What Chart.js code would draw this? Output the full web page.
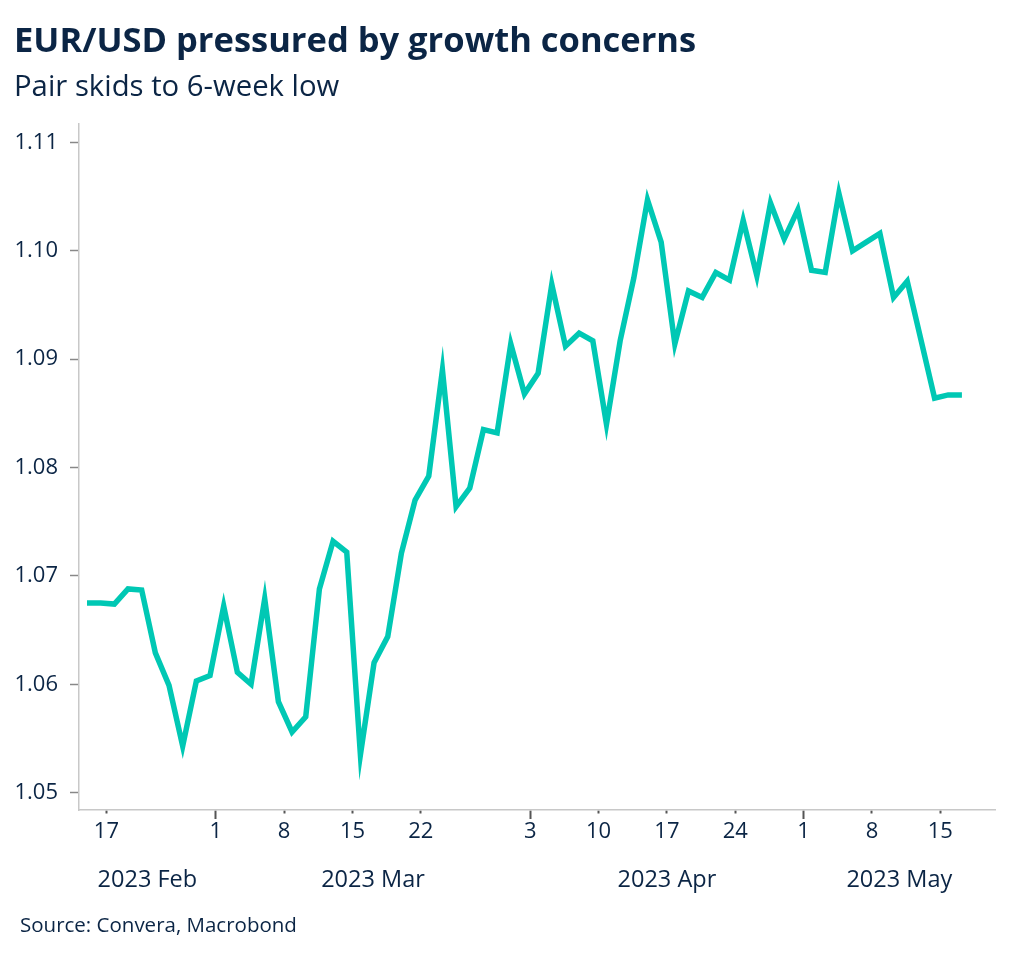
<!DOCTYPE html>
<html>
<head>
<meta charset="utf-8">
<title>EUR/USD pressured by growth concerns</title>
<script src="https://cdn.jsdelivr.net/npm/chart.js@4.4.1/dist/chart.umd.min.js"></script>
<style>
  html, body { margin: 0; padding: 0; background: #fff; }
  #wrap { position: relative; width: 1024px; height: 958px; overflow: hidden; font-family: "Open Sans", sans-serif; color: #0b2545; }
  #chartBox { position: absolute; left: 0; top: 0; width: 1024px; height: 958px; }
  .title { position: absolute; left: 14px; top: 22px; font-size: 34.5px; font-weight: 700; line-height: 1; white-space: nowrap; }
  .subtitle { position: absolute; left: 14px; top: 71px; font-size: 29.3px; line-height: 1; white-space: nowrap; }
  .source { position: absolute; left: 20px; top: 914px; font-size: 20.5px; line-height: 1; white-space: nowrap; }
</style>
</head>
<body>
<div id="wrap">
  <div id="chartBox"><canvas id="fxChart"></canvas></div>
  <div class="title">EUR/USD pressured by growth concerns</div>
  <div class="subtitle">Pair skids to 6-week low</div>
  <div class="source">Source: Convera, Macrobond</div>
</div>
<script>
// trading days, 2023
const dates = [
  '02-16', '02-17', '02-20', '02-21', '02-22', '02-23', '02-24', '02-27', '02-28',
  '03-01', '03-02', '03-03', '03-06', '03-07', '03-08', '03-09', '03-10',
  '03-13', '03-14', '03-15', '03-16', '03-17', '03-20', '03-21', '03-22', '03-23', '03-24',
  '03-27', '03-28', '03-29', '03-30', '03-31',
  '04-03', '04-04', '04-05', '04-06', '04-07', '04-10', '04-11', '04-12', '04-13', '04-14',
  '04-17', '04-18', '04-19', '04-20', '04-21', '04-24', '04-25', '04-26', '04-27', '04-28',
  '05-01', '05-02', '05-03', '05-04', '05-05', '05-08', '05-09', '05-10', '05-11', '05-12',
  '05-15', '05-16', '05-17'
];

const eurusd = [
  1.0675, 1.0675, 1.0674, 1.0688, 1.0687, 1.0629, 1.0599, 1.0543, 1.0603,
  1.0608, 1.0672, 1.0611, 1.0600, 1.0679, 1.0584, 1.0556, 1.0570,
  1.0688, 1.0732, 1.0722, 1.0535, 1.0620, 1.0644, 1.0721, 1.0770, 1.0792, 1.0890,
  1.0764, 1.0781, 1.0835, 1.0832, 1.0914,
  1.0868, 1.0887, 1.0969, 1.0912, 1.0924, 1.0917, 1.0840, 1.0917, 1.0975, 1.1047,
  1.1008, 1.0914, 1.0963, 1.0957, 1.0980, 1.0973, 1.1028, 1.0977, 1.1044, 1.1011,
  1.1038, 1.0982, 1.0980, 1.1053, 1.1000, 1.1008, 1.1016, 1.0957, 1.0972, 1.0918,
  1.0864, 1.0867, 1.0867
];

const yTicks = [1.05, 1.06, 1.07, 1.08, 1.09, 1.10, 1.11];

const xTickDates = ['02-17', '03-01', '03-08', '03-15', '03-22', '04-03', '04-10', '04-17', '04-24', '05-01', '05-08', '05-15'];
const xTickLabels = ['17', '1', '8', '15', '22', '3', '10', '17', '24', '1', '8', '15'];
const monthStarts = ['03-01', '04-03', '05-01'];
const monthLabels = ['2023 Feb', '2023 Mar', '2023 Apr', '2023 May'];

const navy = '#0b2545';
const teal = '#00c8b4';
const xMin = -0.585, xMax = 66.42;
const tickShift = 0.42; // date ticks sit a bit right of the data point

const points = eurusd.map((v, i) => ({ x: i, y: v }));
const tickPos = xTickDates.map(d => dates.indexOf(d) + tickShift);
const isMajor = xTickDates.map(d => monthStarts.includes(d));

const bounds = [xMin].concat(monthStarts.map(d => dates.indexOf(d) + tickShift), [xMax]);
const monthPos = monthLabels.map((m, i) => (bounds[i] + bounds[i + 1]) / 2);

const ctx = document.getElementById('fxChart').getContext('2d');
new Chart(ctx, {
  type: 'line',
  data: {
    datasets: [{
      label: 'EUR/USD',
      data: points,
      borderColor: teal,
      borderWidth: 5.5,
      pointRadius: 0,
      tension: 0,
      fill: false
    }]
  },
  options: {
    responsive: true,
    maintainAspectRatio: false,
    animation: false,
    layout: { padding: { top: 124, right: 29, bottom: 58, left: 0 } },
    plugins: {
      legend: { display: false },
      tooltip: { enabled: false }
    },
    scales: {
      x: {
        type: 'linear',
        min: xMin,
        max: xMax,
        weight: 0,
        afterBuildTicks: scale => { scale.ticks = tickPos.map(v => ({ value: v })); },
        afterFit: scale => { scale.height = 50; },
        border: { display: true, color: '#c8c8c8', width: 1.5 },
        grid: {
          drawOnChartArea: false,
          tickLength: 9,
          tickWidth: 2,
          tickColor: '#555',
          tickBorderDash: c => (isMajor[c.index] ? [] : [3, 40])
        },
        ticks: {
          autoSkip: false,
          maxRotation: 0,
          padding: 0,
          color: navy,
          font: { family: 'Open Sans', size: 22 },
          callback: (v, i) => xTickLabels[i]
        }
      },
      x2: {
        type: 'linear',
        position: 'bottom',
        min: xMin,
        max: xMax,
        weight: 1,
        afterBuildTicks: scale => { scale.ticks = monthPos.map(v => ({ value: v })); },
        afterFit: scale => { scale.height = 40; },
        border: { display: false },
        grid: { display: false, drawTicks: false },
        ticks: {
          autoSkip: false,
          maxRotation: 0,
          padding: 6,
          color: navy,
          font: { family: 'Open Sans', size: 23.5 },
          callback: (v, i) => monthLabels[i]
        }
      },
      y: {
        min: 1.0484,
        max: 1.1117,
        afterBuildTicks: scale => { scale.ticks = yTicks.map(v => ({ value: v })); },
        afterFit: scale => { scale.width = 79; },
        border: { display: true, color: '#c8c8c8', width: 1.5 },
        grid: {
          drawOnChartArea: false,
          tickLength: 9,
          tickWidth: 1.5,
          tickColor: '#888'
        },
        ticks: {
          padding: 12,
          color: navy,
          font: { family: 'Open Sans', size: 22 },
          callback: v => v.toFixed(2)
        }
      }
    }
  }
});
</script>
</body>
</html>
